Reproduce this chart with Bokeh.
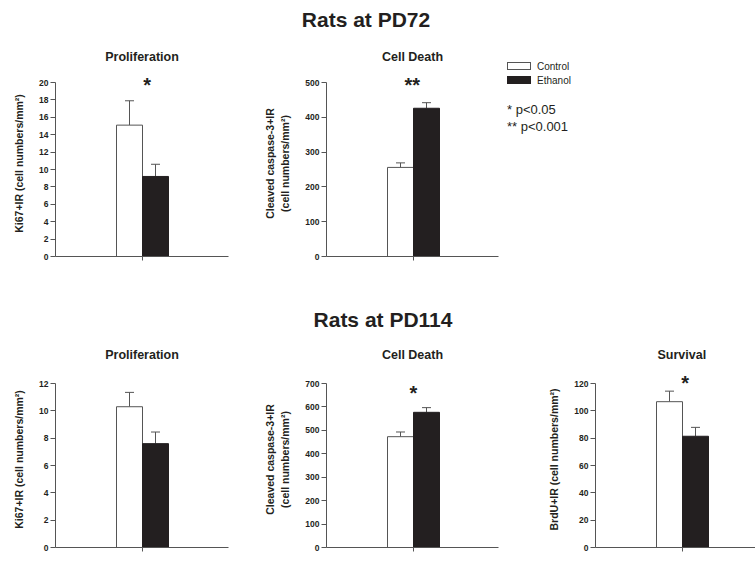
from bokeh.plotting import figure
from bokeh.models import (Range1d, FixedTicker, Whisker, ColumnDataSource, Div, TeeHead)
from bokeh.layouts import column, row
from bokeh.embed import file_html
from bokeh.resources import INLINE
from bokeh.core.properties import value

# ---------------- data ----------------
groups = ["Control", "Ethanol"]
group_x = [-0.5, 0.5]
group_fill = ["#ffffff", "#231f20"]
group_line = ["#555555", "#231f20"]

# Rats at PD72
pd72_prolif_mean = [15.1, 9.2]
pd72_prolif_err = [2.8, 1.4]
pd72_prolif_ticks = [0, 2, 4, 6, 8, 10, 12, 14, 16, 18, 20]
pd72_death_mean = [256, 426]
pd72_death_err = [13, 16]
pd72_death_ticks = [0, 100, 200, 300, 400, 500]

# Rats at PD114
pd114_prolif_mean = [10.3, 7.6]
pd114_prolif_err = [1.05, 0.85]
pd114_prolif_ticks = [0, 2, 4, 6, 8, 10, 12]
pd114_death_mean = [473, 577]
pd114_death_err = [20, 20]
pd114_death_ticks = [0, 100, 200, 300, 400, 500, 600, 700]
pd114_surv_mean = [106.7, 81.4]
pd114_surv_err = [7.7, 6.5]
pd114_surv_ticks = [0, 20, 40, 60, 80, 100, 120]

# significance marks (text, x in bar units, height in data units)
pd72_prolif_sig = ("*", 0.18, 20)
pd72_death_sig = ("**", -0.05, 500)
pd114_death_sig = ("*", 0.0, 669)
pd114_surv_sig = ("*", 0.1, 121.5)

pvalue_notes = ["* p&lt;0.05", "** p&lt;0.001"]

FONT = "Liberation Sans"
INK = "#231f20"
AX = "#555555"
BAR_PX = 26      # bar width in pixels
LEFT_PX = 87     # distance from y axis to the bar pair centre
EXT = 12         # free space above the top of the y axis (room for the stars)


def panel(title, ylabel, ymax, yticks, means, errs, sig,
          bl, fw, br, bt, axis_h, bb, title_standoff, label_standoff,
          title_align="center", title_offset=0):
    width = bl + fw + br
    height = bt + axis_h + EXT + bb
    p = figure(width=width, height=height,
               x_range=Range1d(-LEFT_PX / BAR_PX, (fw - LEFT_PX) / BAR_PX),
               y_range=Range1d(0, ymax * (axis_h + EXT) / axis_h),
               output_backend="svg", toolbar_location=None,
               min_border_left=bl, min_border_right=br,
               min_border_top=bt, min_border_bottom=bb, title=title)
    p.outline_line_color = None
    p.grid.visible = False
    p.background_fill_color = "white"
    p.border_fill_color = "white"

    p.title.text_font = FONT
    p.title.text_font_size = "12.5px"
    p.title.text_font_style = "bold"
    p.title.text_color = INK
    p.title.align = title_align
    p.title.offset = title_offset
    p.title.standoff = title_standoff

    ya = p.yaxis[0]
    ya.bounds = (0, ymax)
    ya.ticker = FixedTicker(ticks=yticks)
    ya.minor_tick_line_color = None
    ya.major_tick_out = 5
    ya.major_tick_in = 0
    ya.major_tick_line_color = AX
    ya.axis_line_color = AX
    ya.major_label_text_font = FONT
    ya.major_label_text_font_size = "8.5px"
    ya.major_label_text_font_style = "bold"
    ya.major_label_text_color = INK
    ya.major_label_standoff = 2
    ya.axis_label = ylabel
    ya.axis_label_text_font = FONT
    ya.axis_label_text_font_size = "10.5px"
    ya.axis_label_text_font_style = "bold"
    ya.axis_label_text_color = INK
    ya.axis_label_text_line_height = 1.3
    ya.axis_label_standoff = label_standoff

    xa = p.xaxis[0]
    xa.ticker = FixedTicker(ticks=[], minor_ticks=[0])
    xa.major_tick_line_color = None
    xa.minor_tick_out = 4
    xa.minor_tick_in = 0
    xa.minor_tick_line_color = AX
    xa.axis_line_color = AX
    xa.major_label_standoff = 0

    src = ColumnDataSource(dict(
        x=group_x, top=means, upper=[m + e for m, e in zip(means, errs)],
        fill=group_fill, line=group_line, group=groups))
    p.vbar(x="x", top="top", bottom=0, width=1, source=src,
           fill_color="fill", line_color="line", line_width=1)
    w = Whisker(source=src, base="x", lower="top", upper="upper",
                dimension="height", line_color=AX, line_width=1,
                upper_head=TeeHead(size=9, line_color=AX, line_width=1),
                lower_head=None)
    p.add_layout(w)

    if sig is not None:
        p.text(x=[sig[1]], y=[sig[2]], text=[sig[0]], text_font=value(FONT),
               text_font_size="20px", text_font_style="bold", text_color=INK,
               text_align="center", text_baseline="alphabetic", y_offset=2)
    return p


def title_div(text, center, height, pad_top):
    html = ('<div style="width:300px;margin-left:%dpx;padding-top:%dpx;'
            'line-height:24px;text-align:center;font-family:\'Liberation Sans\';'
            'font-weight:bold;font-size:21px;color:%s;white-space:nowrap">%s</div>'
            % (center - 150, pad_top, INK, text))
    return Div(text=html, width=755, height=height, margin=0)


def legend_div(width, height):
    # legend boxes + labels, then the p-value notes (positions in px inside the div)
    parts = ['<div style="position:relative;width:%dpx;height:%dpx;'
             'font-family:\'Liberation Sans\';color:%s">' % (width, height, INK)]
    box_tops = [26, 40]
    for g, fill, line, top in zip(groups, group_fill, group_line, box_tops):
        parts.append('<div style="position:absolute;left:4px;top:%dpx;width:24px;height:8px;'
                     'box-sizing:border-box;border:1px solid %s;background:%s"></div>'
                     % (top, line, fill))
        parts.append('<div style="position:absolute;left:34px;top:%dpx;line-height:12px;'
                     'font-size:10px;white-space:nowrap">%s</div>' % (top - 1, g))
    for note, top in zip(pvalue_notes, [66, 83]):
        parts.append('<div style="position:absolute;left:4px;top:%dpx;line-height:16px;'
                     'font-size:13px;white-space:nowrap">%s</div>' % (top, note))
    parts.append('</div>')
    return Div(text="".join(parts), width=width, height=height, margin=0)


# ---------------- top row ----------------
div1 = title_div("Rats at PD72", 366, 36, 8)

pA = panel("Proliferation", "Ki67+IR (cell numbers/mm²)", 20, pd72_prolif_ticks,
           pd72_prolif_mean, pd72_prolif_err, pd72_prolif_sig,
           55, 173, 20, 34, 174, 22, 13, 11)
pB = panel("Cell Death", "Cleaved caspase-3+IR\n(cell numbers/mm²)", 500, pd72_death_ticks,
           pd72_death_mean, pd72_death_err, pd72_death_sig,
           78, 172, 5, 34, 174, 22, 13, 11)
divC = legend_div(252, 242)

# ---------------- bottom row ----------------
div2 = title_div("Rats at PD114", 383, 56, 30)

pD = panel("Proliferation", "Ki67+IR (cell numbers/mm²)", 12, pd114_prolif_ticks,
           pd114_prolif_mean, pd114_prolif_err, None,
           55, 173, 20, 37, 164, 15, 19, 11)
pE = panel("Cell Death", "Cleaved caspase-3+IR\n(cell numbers/mm²)", 700, pd114_death_ticks,
           pd114_death_mean, pd114_death_err, pd114_death_sig,
           78, 172, 5, 37, 164, 15, 19, 11)
pF = panel("Survival", "BrdU+IR (cell numbers/mm²)", 120, pd114_surv_ticks,
           pd114_surv_mean, pd114_surv_err, pd114_surv_sig,
           92, 160, 0, 37, 164, 15, 19, 11, title_align="left", title_offset=62)

layout = column(div1, row(pA, pB, divC), div2, row(pD, pE, pF))

open("out.html", "w").write(file_html(layout, INLINE))
